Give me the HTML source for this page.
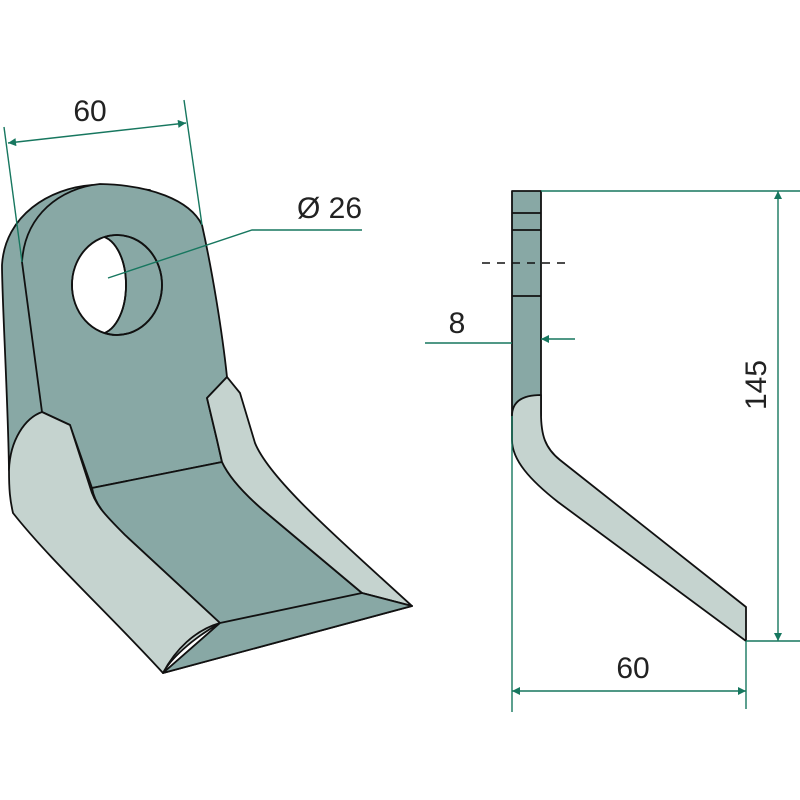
<!DOCTYPE html>
<html><head><meta charset="utf-8"><style>html,body{margin:0;padding:0;background:#fff}svg{display:block}</style></head>
<body>
<svg width="800" height="800" viewBox="0 0 800 800" xmlns="http://www.w3.org/2000/svg">
<defs>
<marker id="a" viewBox="0 0 10 10" refX="10" refY="5" markerWidth="14" markerHeight="8" markerUnits="userSpaceOnUse" orient="auto-start-reverse"><path d="M0,0L10,5L0,10z" fill="#17775f"/></marker>
<clipPath id="hc"><ellipse cx="117" cy="285" rx="45" ry="50"/></clipPath>
</defs>
<g stroke="#111" stroke-width="1.8" stroke-linejoin="round">
<!-- back plate -->
<path d="M9,470 C8,400 2,300 2,265 C5,215 50,188 92,185 L150,190 L42,412 Z" fill="#88a8a5"/>
<!-- front plate -->
<path d="M22,262 C25,215 60,188 100,184 C150,185 190,200 202,225 C212,270 222,330 227,377 L207,398 L217,440 L222,462 L92,488 L70,425 L42,412 Z" fill="#88a8a5"/>
<!-- bottom dark face -->
<path d="M92,488 L222,462 C228,475 240,490 263,510 L362,593 L412,606 L163,673 L220,623 L125,535 C105,515 95,505 92,488 Z" fill="#88a8a5"/>
<!-- left light flank -->
<path d="M42,412 L70,425 L90,487 C95,505 105,515 125,535 L220,623 C190,640 170,660 163,673 C110,615 50,560 13,513 C10,500 9,490 9,470 C10,440 25,418 42,412 Z" fill="#c5d3cf"/>
<!-- right light flank -->
<path d="M227,377 L240,393 L255,443 C270,480 340,540 412,606 L362,593 L263,510 C240,490 228,475 222,462 L217,440 L207,398 Z" fill="#c5d3cf"/>
<!-- bottom bevel -->
<path d="M220,623 L362,593 L412,606 L163,673 Z" fill="#88a8a5"/>
<path d="M163,673 C175,650 195,630 220,623" fill="none"/>
<!-- hole -->
<ellipse cx="117" cy="285" rx="45" ry="50" fill="#88a8a5"/>
<ellipse cx="99" cy="285" rx="27" ry="49" fill="#fff" clip-path="url(#hc)"/>
<ellipse cx="99" cy="285" rx="27" ry="49" fill="none" clip-path="url(#hc)"/>
<ellipse cx="117" cy="285" rx="45" ry="50" fill="none"/>
</g>
<!-- dimension left -->
<g stroke="#17775f" stroke-width="1.4" fill="none">
<line x1="4" y1="127" x2="22" y2="262"/>
<line x1="184" y1="100" x2="202" y2="225"/>
<line x1="8" y1="143" x2="186" y2="123" marker-start="url(#a)" marker-end="url(#a)"/>
<polyline points="108,278 252,230 362,230"/>
</g>
<g font-family="'Liberation Sans',sans-serif" font-size="30" fill="#222">
<text x="90" y="121" text-anchor="middle">60</text>
<text x="297" y="218">Ø 26</text>
</g>
<!-- right figure -->
<g stroke="#111" stroke-width="1.8" stroke-linejoin="round">
<rect x="512" y="191" width="29" height="225" fill="#88a8a5"/>
<path d="M512,416 C512,400 525,395 541,395 L541,413 C541,435 545,448 560,460 L746,607 L746,641 L558,502 C530,480 512,460 512,440 Z" fill="#c5d3cf"/>
<line x1="512" y1="213" x2="541" y2="213"/>
<line x1="512" y1="230" x2="541" y2="230"/>
<line x1="512" y1="296" x2="541" y2="296"/>
<line x1="482" y1="263" x2="572" y2="263" stroke-width="1.4" stroke-dasharray="8,7"/>
</g>
<g stroke="#17775f" stroke-width="1.4" fill="none">
<line x1="425" y1="343" x2="512" y2="343"/>
<line x1="575" y1="339" x2="541" y2="339" marker-end="url(#a)"/>
<line x1="541" y1="191" x2="800" y2="191"/>
<line x1="746" y1="641" x2="800" y2="641"/>
<line x1="778" y1="191" x2="778" y2="641" marker-start="url(#a)" marker-end="url(#a)"/>
<line x1="512" y1="416" x2="512" y2="712"/>
<line x1="746" y1="641" x2="746" y2="709"/>
<line x1="512" y1="691" x2="746" y2="691" marker-start="url(#a)" marker-end="url(#a)"/>
</g>
<g font-family="'Liberation Sans',sans-serif" font-size="30" fill="#222">
<text x="457" y="333" text-anchor="middle">8</text>
<text x="633" y="678" text-anchor="middle">60</text>
<text transform="translate(766,385) rotate(-90)" text-anchor="middle">145</text>
</g>
</svg>
</body></html>
